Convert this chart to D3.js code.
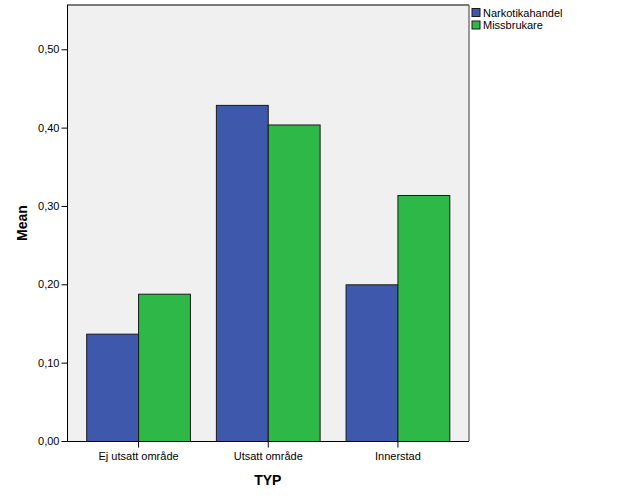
<!DOCTYPE html>
<html>
<head>
<meta charset="utf-8">
<script src="https://cdn.jsdelivr.net/npm/d3@7"></script>
<style>
	body { margin: 0; background: #fff; }
	text { font-family: Arial, "Liberation Sans", sans-serif; }
</style>
</head>
<body>
<svg id="chart"></svg>
<script>
const categories = ["Ej utsatt område", "Utsatt område", "Innerstad"];
const seriesNames = ["Narkotikahandel", "Missbrukare"];
const narkotikahandel = [0.137, 0.429, 0.200];
const missbrukare = [0.188, 0.404, 0.314];
const yTicks = [0, 0.1, 0.2, 0.3, 0.4, 0.5];
const colors = ["#3e58ac", "#2eb848"];

const width = 626, height = 501;
const plot = { left: 67, right: 468.5, top: 5, bottom: 441 };

const svg = d3.select("#chart").attr("width", width).attr("height", height);

const x = d3.scaleBand()
	.domain(categories)
	.range([plot.left, plot.right])
	.paddingInner(0.2)
	.paddingOuter(0.148);

const xSub = d3.scaleBand()
	.domain(seriesNames)
	.range([0, x.bandwidth()]);

const y = d3.scaleLinear()
	.domain([0, 0.5565])
	.range([plot.bottom, plot.top]);

// plot background
svg.append("rect")
	.attr("x", plot.left)
	.attr("y", plot.top)
	.attr("width", plot.right - plot.left)
	.attr("height", plot.bottom - plot.top)
	.attr("fill", "#f0f0f0");

const rows = categories.map((c, i) => ({
	cat: c,
	values: [narkotikahandel[i], missbrukare[i]]
}));

const groups = svg.selectAll("g.group")
	.data(rows)
	.enter()
	.append("g")
	.attr("class", "group")
	.attr("transform", (d) => `translate(${x(d.cat)},0)`);

groups.selectAll("rect")
	.data((d) => d.values.map((v, j) => ({ v, s: seriesNames[j], j })))
	.enter()
	.append("rect")
	.attr("x", (d) => xSub(d.s) + 0.5)
	.attr("y", (d) => y(d.v) + 0.5)
	.attr("width", xSub.bandwidth())
	.attr("height", (d) => plot.bottom - y(d.v))
	.attr("fill", (d) => colors[d.j])
	.attr("stroke", "#1a1a1a")
	.attr("stroke-width", 1);

// frame: top and right grey
svg.append("line")
	.attr("x1", plot.left).attr("x2", plot.right + 0.5)
	.attr("y1", plot.top).attr("y2", plot.top)
	.attr("stroke", "#7a7a7a").attr("stroke-width", 2);
svg.append("line")
	.attr("x1", plot.right + 0.5).attr("x2", plot.right + 0.5)
	.attr("y1", plot.top).attr("y2", plot.bottom)
	.attr("stroke", "#555").attr("stroke-width", 1.2);

// y axis
const yAxis = d3.axisLeft(y)
	.tickValues(yTicks)
	.tickSize(6)
	.tickPadding(2)
	.tickFormat((d) => d3.format(".2f")(d).replace(".", ","));

const gy = svg.append("g")
	.attr("transform", `translate(${plot.left + 0.5},0)`)
	.call(yAxis);
gy.select(".domain").attr("d", `M0,${plot.top}V${plot.bottom + 0.5}`).attr("stroke", "#000");
gy.selectAll(".tick line").attr("stroke", "#000");
gy.selectAll(".tick text").attr("font-size", 11).attr("fill", "#000")
	.attr("font-family", "Arial, 'Liberation Sans', sans-serif");

// x axis
const xAxis = d3.axisBottom(x).tickSize(6).tickPadding(5);
const gx = svg.append("g")
	.attr("transform", `translate(0.5,${plot.bottom + 0.5})`)
	.call(xAxis);
gx.select(".domain").attr("d", `M${plot.left},0H${plot.right}`).attr("stroke", "#000");
gx.selectAll(".tick line").attr("stroke", "#000");
gx.selectAll(".tick text").attr("font-size", 11).attr("fill", "#000")
	.attr("font-family", "Arial, 'Liberation Sans', sans-serif");

// axis titles
svg.append("text")
	.attr("transform", `translate(27,${(plot.top + plot.bottom) / 2}) rotate(-90)`)
	.attr("text-anchor", "middle")
	.attr("font-size", 14)
	.attr("font-weight", "bold")
	.text("Mean");

svg.append("text")
	.attr("x", (plot.left + plot.right) / 2)
	.attr("y", 485)
	.attr("text-anchor", "middle")
	.attr("font-size", 14)
	.attr("font-weight", "bold")
	.text("TYP");

// legend
const legend = svg.selectAll("g.legend")
	.data(seriesNames)
	.enter()
	.append("g")
	.attr("class", "legend")
	.attr("transform", (d, i) => `translate(472,${8.5 + i * 12.5})`);

legend.append("rect")
	.attr("width", 8)
	.attr("height", 8)
	.attr("fill", (d, i) => colors[i])
	.attr("stroke", "#1a1a1a");

legend.append("text")
	.attr("x", 11)
	.attr("y", 8)
	.attr("font-size", 11)
	.attr("fill", "#000")
	.text((d) => d);
</script>
</body>
</html>
